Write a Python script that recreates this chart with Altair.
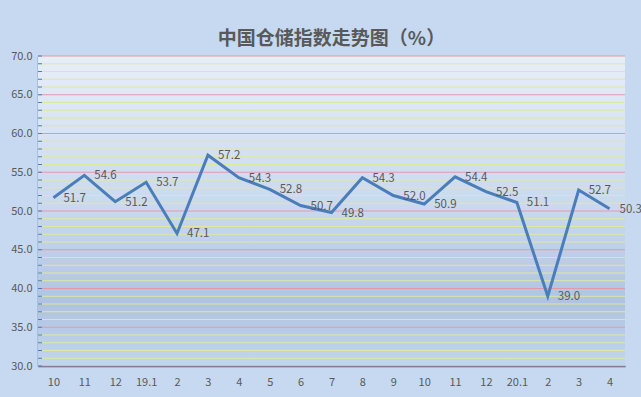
import altair as alt
import pandas as pd

labels = ["10", "11", "12", "19.1", "2", "3", "4", "5", "6", "7", "8", "9",
          "10", "11", "12", "20.1", "2", "3", "4"]
values = [51.7, 54.6, 51.2, 53.7, 47.1, 57.2, 54.3, 52.8, 50.7, 49.8, 54.3,
          52.0, 50.9, 54.4, 52.5, 51.1, 39.0, 52.7, 50.3]
grid_values = list(range(30, 71))
y_label_values = [30, 35, 40, 45, 50, 55, 60, 65, 70]

W, H = 587, 310
df = pd.DataFrame({"idx": list(range(len(labels))), "label": labels, "value": values})
gdf = pd.DataFrame({"g": grid_values, "major": [v % 5 == 0 for v in grid_values]})

label_arr = "[" + ",".join("'" + l + "'" for l in labels) + "]"

yscale = alt.Scale(domain=[30, 70], nice=False, zero=False)
xscale = alt.Scale(type="point", padding=0.5)

yaxis = alt.Axis(title=None, values=y_label_values, labelOverlap=False,
                 format=".1f", grid=False, ticks=False, domainColor="#4a7ebb",
                 domainWidth=1.5, labelColor="#595959", labelFontSize=11,
                 labelPadding=6, labelFont="Noto Sans CJK SC")

bg = alt.Chart(alt.Data(values=[{}])).mark_rect(
    color=alt.Gradient(
        gradient="linear", x1=0, x2=0, y1=0, y2=1,
        stops=[
            alt.GradientStop(offset=0, color="#e6eef8"),
            alt.GradientStop(offset=0.5, color="#c9d8ee"),
            alt.GradientStop(offset=0.8, color="#afc3e1"),
            alt.GradientStop(offset=1, color="#c4d6ee"),
        ],
    )
).encode(x=alt.value(0), x2=alt.value(W), y=alt.value(0), y2=alt.value(H))

grid = alt.Chart(gdf).mark_rule(strokeWidth=1.2).encode(
    y=alt.Y("g:Q", scale=yscale, axis=yaxis),
    x=alt.value(0), x2=alt.value(W),
    color=alt.condition("datum.major", alt.value("#e39aa6"), alt.value("#dfe89c")),
)

ticks = alt.Chart(gdf).mark_rule(strokeWidth=1, color="#4a7ebb").encode(
    y=alt.Y("g:Q", scale=yscale, axis=yaxis),
    x=alt.value(0), x2=alt.value(4),
)

line = alt.Chart(df).mark_line(color="#4a7ebb", strokeWidth=3).encode(
    x=alt.X("idx:O", scale=xscale,
            axis=alt.Axis(title=None, labelExpr=label_arr + "[datum.value]",
                          labelAngle=0, ticks=False, domainColor="#2e5c99",
                          domainWidth=1.5, labelColor="#595959", labelFontSize=11,
                          labelPadding=10, labelFont="Noto Sans CJK SC")),
    y=alt.Y("value:Q", scale=yscale, axis=yaxis),
)

text = alt.Chart(df).mark_text(
    align="left", baseline="middle", dx=10, dy=1, fontSize=11.5,
    color="#595959", font="Noto Sans CJK SC"
).encode(
    x=alt.X("idx:O", scale=xscale),
    y=alt.Y("value:Q", scale=yscale, axis=yaxis),
    text=alt.Text("value:Q", format=".1f"),
)

chart = alt.layer(bg, grid, ticks, line, text).properties(
    width=W, height=H,
    autosize=alt.AutoSizeParams(type="none"),
    padding={"left": 38, "top": 56, "right": 16, "bottom": 31},
    background="#c6d9f0",
    title=alt.Title("中国仓储指数走势图（%）", fontSize=19, fontWeight="bold",
                    color="#595959", font="Noto Sans CJK SC", offset=1, anchor="middle"),
).configure_view(stroke=None)

chart.save("out.html", embed_options={"renderer": "svg", "actions": False})
